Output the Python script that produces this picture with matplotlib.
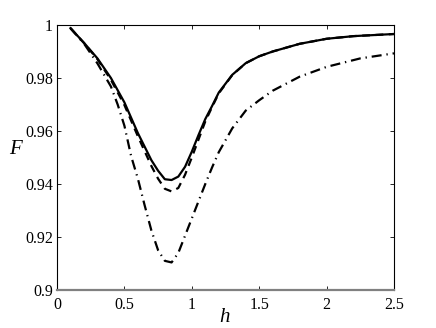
import matplotlib
matplotlib.use("Agg")
import matplotlib.pyplot as plt

h_solid = [0.1, 0.2, 0.3, 0.4, 0.5, 0.6, 0.7, 0.75, 0.8, 0.85, 0.9, 0.95, 1.0, 1.05, 1.1,
           1.15, 1.2, 1.3, 1.4, 1.5, 1.6, 1.8, 2.0, 2.2, 2.5]
F_solid = [0.9988, 0.9933, 0.9874, 0.9800, 0.9708, 0.9592, 0.9490, 0.9450, 0.9418, 0.9415,
           0.9428, 0.9465, 0.9522, 0.9585, 0.9645, 0.9694, 0.9745, 0.9812, 0.9856, 0.9882,
           0.9900, 0.9929, 0.9948, 0.9958, 0.9966]

h_dash = [0.1, 0.2, 0.3, 0.4, 0.5, 0.6, 0.7, 0.75, 0.8, 0.85, 0.9, 0.95, 1.0, 1.05, 1.1,
          1.15, 1.2, 1.3, 1.4, 1.5, 1.6, 1.8, 2.0, 2.2, 2.5]
F_dash = [0.9988, 0.9932, 0.9871, 0.9793, 0.9698, 0.9580, 0.9468, 0.9420, 0.9382, 0.9372,
          0.9385, 0.9435, 0.9500, 0.9568, 0.9636, 0.9690, 0.9742, 0.9811, 0.9856, 0.9882,
          0.9900, 0.9929, 0.9948, 0.9958, 0.9966]

h_dd = [0.1, 0.2, 0.3, 0.4, 0.45, 0.5, 0.55, 0.6, 0.65, 0.7, 0.75, 0.8, 0.85, 0.9, 0.95,
        1.0, 1.05, 1.1, 1.15, 1.2, 1.3, 1.4, 1.5, 1.6, 1.8, 2.0, 2.25, 2.5]
F_dd = [0.9988, 0.9930, 0.9855, 0.9768, 0.9700, 0.9620, 0.9505, 0.9420, 0.9320, 0.9225,
        0.9150, 0.9110, 0.9104, 0.9140, 0.9205, 0.9270, 0.9335, 0.9400, 0.9462, 0.9520,
        0.9610, 0.9677, 0.9716, 0.9752, 0.9805, 0.9842, 0.9874, 0.9893]

x_ticks = [0, 0.5, 1, 1.5, 2, 2.5]
x_labels = ["0", "0.5", "1", "1.5", "2", "2.5"]
y_ticks = [0.9, 0.92, 0.94, 0.96, 0.98, 1.0]
y_labels = ["0.9", "0.92", "0.94", "0.96", "0.98", "1"]

plt.rcParams['font.family'] = ['Liberation Serif', 'DejaVu Serif']

fig = plt.figure(figsize=(4.36, 3.28), dpi=100)
ax = fig.add_axes([57/436, 1 - 290/328, (394-57)/436, (290-25)/328])

ax.plot(h_solid, F_solid, color='black', lw=1.6, linestyle='-')
ax.plot(h_dash, F_dash, color='black', lw=1.6, linestyle=(0, (3.5, 2.5)))
ax.plot(h_dd, F_dd, color='black', lw=1.6, linestyle=(0, (4.5, 2.2, 0.6, 2.2)))

ax.set_xlim(0, 2.5)
ax.set_ylim(0.9, 1.0)
ax.set_xticks(x_ticks)
ax.set_xticklabels(x_labels)
ax.set_yticks(y_ticks)
ax.set_yticklabels(y_labels)
ax.tick_params(direction='in', length=3, width=0.6, top=True, right=True,
               labelsize=11.5)
ax.tick_params(axis='x', pad=5)
ax.tick_params(axis='y', pad=3)
for s in ['top', 'right', 'left']:
    ax.spines[s].set_linewidth(0.8)
ax.spines['bottom'].set_linewidth(1.6)
ax.spines['bottom'].set_color('#808080')

fig.text(225/436, 1 - 318/328, 'h', fontsize=15, style='italic', ha='center', va='center')
fig.text(15/436, 1 - 150/328, 'F', fontsize=15, style='italic', ha='center', va='center')

fig.savefig('out.png', dpi=100)
